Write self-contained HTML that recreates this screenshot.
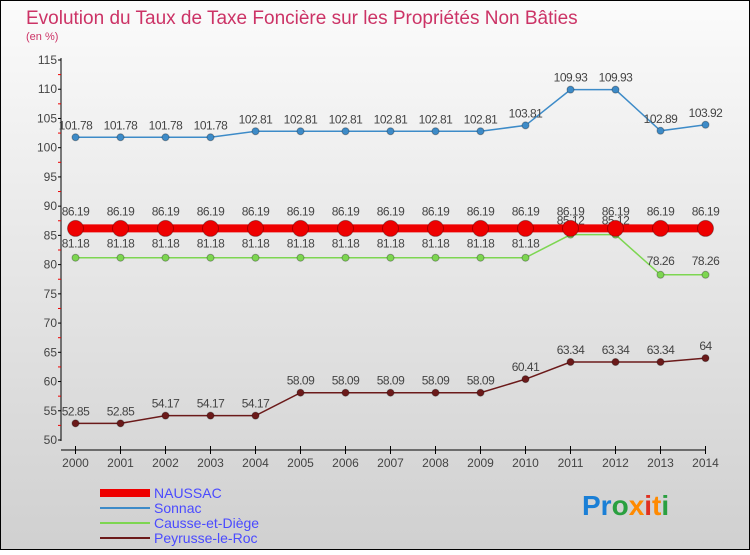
<!DOCTYPE html>
<html><head><meta charset="utf-8"><style>
body{margin:0;}
#c{width:750px;height:550px;position:relative;font-family:"Liberation Sans",sans-serif;}
</style></head><body>
<div id="c">
<svg width="750" height="550" id="svg">
<defs><linearGradient id="bg" x1="0" y1="0" x2="0" y2="1"><stop offset="0" stop-color="#fbfbfb"/><stop offset="1" stop-color="#d0d0d0"/></linearGradient></defs>
<rect x="0.5" y="0.5" width="749" height="549" fill="url(#bg)" stroke="#000"/>
<text x="26" y="24" font-size="19" fill="#cc3366">Evolution du Taux de Taxe Foncière sur les Propriétés Non Bâties</text>
<text x="26" y="40" font-size="11" fill="#cc3366">(en %)</text>
<g id="axes"></g><g id="series"></g><g id="legend"></g>
<text x="582" y="515" font-size="28" font-weight="bold"><tspan fill="#1a7fd6">Pr</tspan><tspan fill="#2aa040">o</tspan><tspan fill="#ff8a00">x</tspan><tspan fill="#e03020">i</tspan><tspan fill="#ff8a00">t</tspan><tspan fill="#2aa040">i</tspan></text>
</svg></div>
<script>
const years=[2000,2001,2002,2003,2004,2005,2006,2007,2008,2009,2010,2011,2012,2013,2014];
const naussac=[86.19,86.19,86.19,86.19,86.19,86.19,86.19,86.19,86.19,86.19,86.19,86.19,86.19,86.19,86.19];
const sonnac=[101.78,101.78,101.78,101.78,102.81,102.81,102.81,102.81,102.81,102.81,103.81,109.93,109.93,102.89,103.92];
const causse=[81.18,81.18,81.18,81.18,81.18,81.18,81.18,81.18,81.18,81.18,81.18,85.12,85.12,78.26,78.26];
const peyrusse=[52.85,52.85,54.17,54.17,54.17,58.09,58.09,58.09,58.09,58.09,60.41,63.34,63.34,63.34,64];
const yTicks=[50,55,60,65,70,75,80,85,90,95,100,105,110,115];
const NS="http://www.w3.org/2000/svg";
const X=i=>75.5+i*45, Y=v=>440-(v-50)*380/65;
function mk(p,t,a){const e=document.createElementNS(NS,t);for(const k in a)e.setAttribute(k,a[k]);p.appendChild(e);return e;}
const ax=document.getElementById('axes');
mk(ax,'line',{x1:61,y1:58,x2:61,y2:441,stroke:'#000'});
mk(ax,'line',{x1:61,y1:450,x2:706,y2:450,stroke:'#000'});
yTicks.forEach(v=>{mk(ax,'line',{x1:58,x2:61,y1:Y(v),y2:Y(v),stroke:'#000'});
 if(v<115)mk(ax,'line',{x1:58,x2:61,y1:Y(v+2.5),y2:Y(v+2.5),stroke:'#e00'});
 const t=mk(ax,'text',{x:57,y:Y(v)+4,'font-size':12,'text-anchor':'end',fill:'#444'});t.textContent=v;
 
 });
years.forEach((y,i)=>{mk(ax,'line',{x1:X(i),x2:X(i),y1:446,y2:454,stroke:'#000'});
 const t=mk(ax,'text',{x:X(i),y:467,'font-size':12,'text-anchor':'middle',fill:'#444'});t.textContent=y;
 
 });
const sg=document.getElementById('series');
function draw(name,vals,col,w,r,lblOff){
 const g=mk(sg,'g',{});
 
 
 mk(g,'polyline',{points:vals.map((v,i)=>X(i)+','+Y(v)).join(' '),fill:'none',stroke:col,'stroke-width':w});
 vals.forEach((v,i)=>{const c=mk(g,'circle',{cx:X(i),cy:Y(v),r:r,fill:col,stroke:'rgba(0,0,0,0.3)'});
  
  
  const t=mk(g,'text',{x:X(i),y:Y(v)-lblOff,'font-size':12,'text-anchor':'middle',fill:'#444','letter-spacing':'-0.5'});t.textContent=v;
  
  });
}
draw('sonnac',sonnac,'#3d8bc8',1.5,3.5,8);
draw('causse',causse,'#7dd651',1.5,3.5,-16+0);
draw('peyrusse',peyrusse,'#6b1a1a',1.5,3.5,8);
draw('naussac',naussac,'#ee0000',8,8,13);
// fix causse labels to be above
sg.querySelectorAll('g')[1].querySelectorAll('text').forEach((t,i)=>t.setAttribute('y',Y(causse[i])-10));
const lg=document.getElementById('legend');
[['NAUSSAC','#ee0000',8],['Sonnac','#3d8bc8',2],['Causse-et-Diège','#7dd651',2],['Peyrusse-le-Roc','#6b1a1a',2]].forEach((s,i)=>{
 const y=493+i*15;
 const l=mk(lg,'line',{x1:100,x2:150,y1:y,y2:y,stroke:s[1],'stroke-width':s[2]});
 
 
 const t=mk(lg,'text',{x:154,y:y+5,'font-size':14,fill:'#4a4aff'});t.textContent=s[0];
 
 
});
</script>
</body></html>
